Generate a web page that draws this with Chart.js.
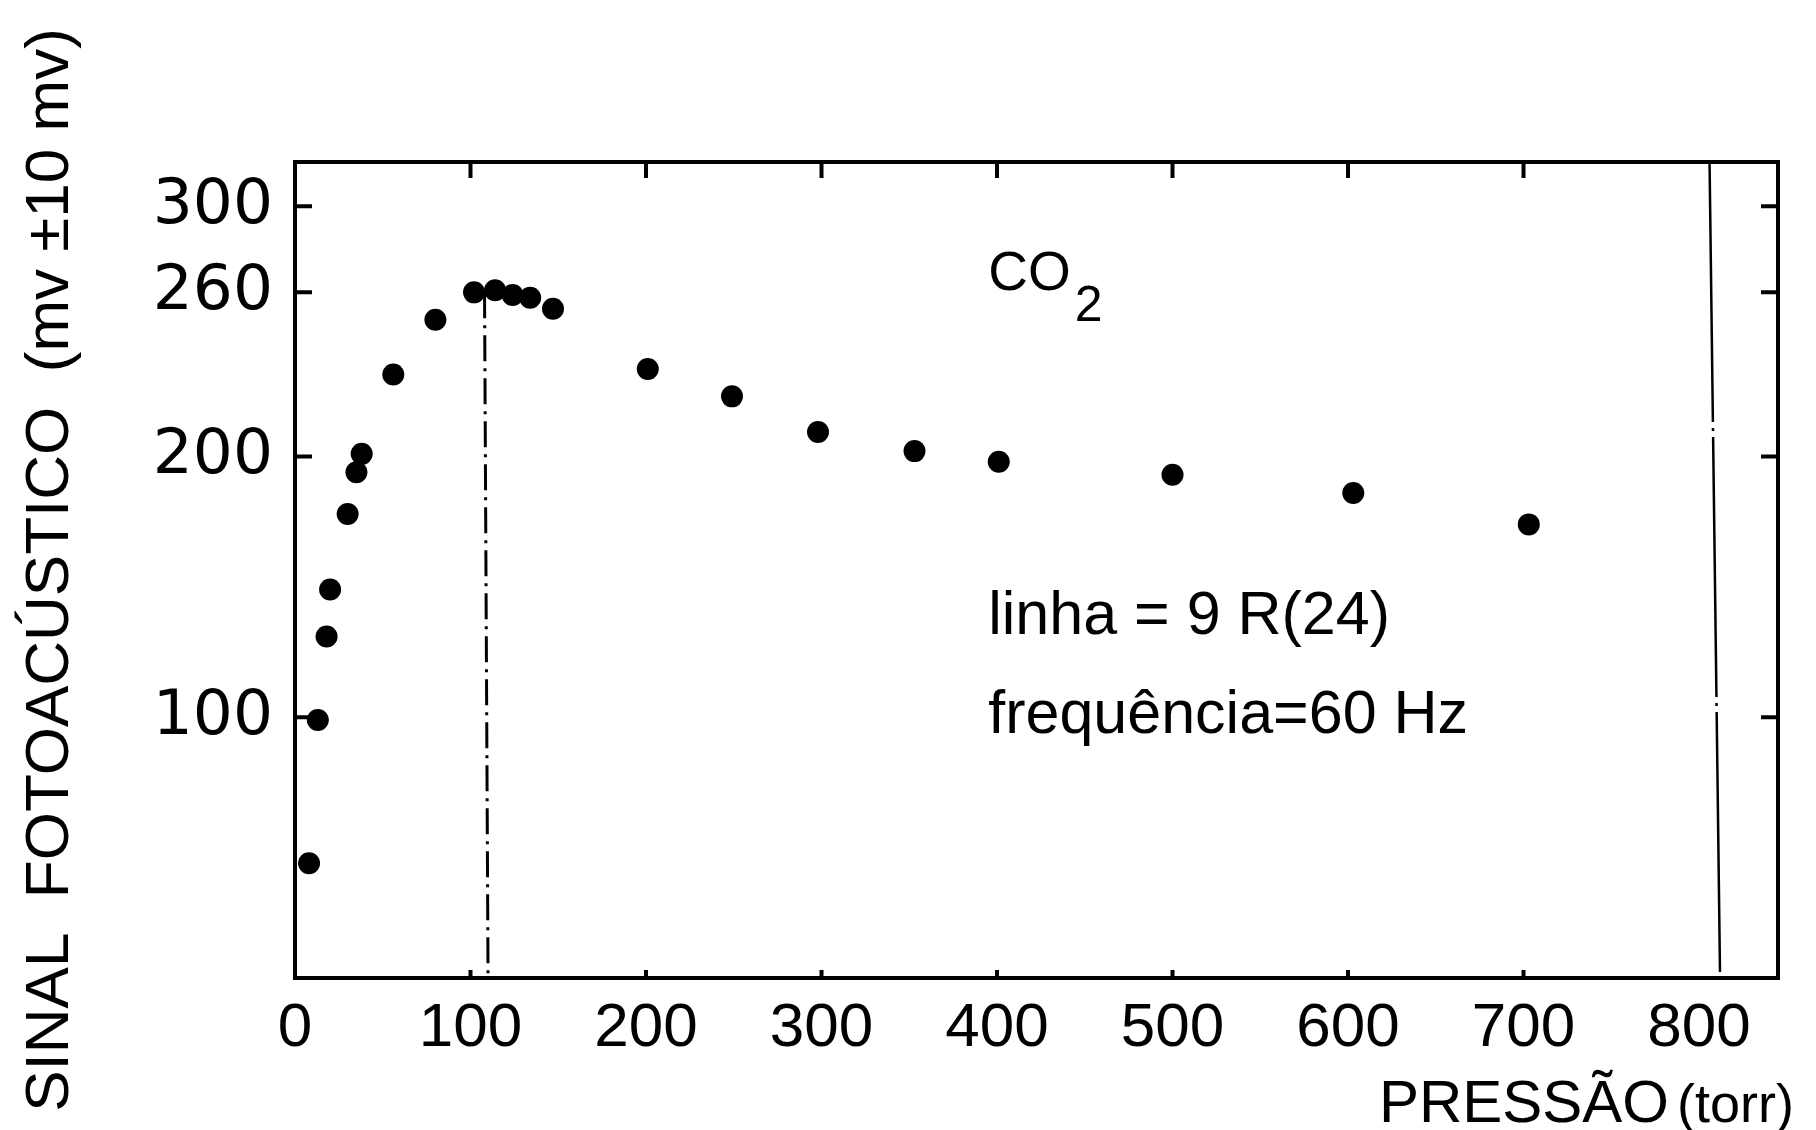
<!DOCTYPE html>
<html lang="pt">
<head>
<meta charset="utf-8">
<title>Sinal fotoacústico do CO2 em função da pressão</title>
<script src="https://cdn.jsdelivr.net/npm/chart.js@4.4.1/dist/chart.umd.min.js"></script>
<style>
  html, body { margin: 0; padding: 0; background: #fff; }
  #wrap { width: 1816px; height: 1130px; }
</style>
</head>
<body>
<div id="wrap"><canvas id="chart" width="1816" height="1130"></canvas></div>
<script>
// Measured points: pressure (torr) and photoacoustic signal (mV)
const pressure = [8, 13, 18, 20, 30, 35, 38, 56, 80, 102, 114, 124, 134, 147, 201, 249, 298, 353, 401, 500, 603, 703];
const signal   = [44, 99, 131, 149, 178, 194, 201, 230, 250, 260, 261, 259, 258, 254, 232, 222, 209, 202, 198, 193, 186, 174];

const xTicks = [0, 100, 200, 300, 400, 500, 600, 700, 800];
const yTicks = [100, 200, 260, 300];

// dash-dot drop from the maximum, and the thin line near 800 torr
const peakLineX = [108, 110];
const peakLineY = [260, 0];
const limitLineX = [806, 812];
const limitLineY = [320, 0];

const INK = '#000';

// The signal axis is not evenly divided: each pair maps a value to its drawn height
const yKnots = [[0, 0], [100, 100], [200, 200], [260, 263], [300, 296], [320, 313]];

function piecewise(v, from, to) {
  for (let i = 1; i < yKnots.length; i++) {
    const a = yKnots[i - 1], b = yKnots[i];
    if (v <= b[from] || i === yKnots.length - 1) {
      return a[to] + (v - a[from]) * (b[to] - a[to]) / (b[from] - a[from]);
    }
  }
}
const warp = v => piecewise(v, 0, 1);
const unwarp = h => piecewise(h, 1, 0);

class WarpedScale extends Chart.LinearScale {
  static id = 'warped';
  static defaults = Chart.LinearScale.defaults;

  getPixelForValue(value) {
    if (value === null || value === undefined) return NaN;
    const lo = warp(this.min), hi = warp(this.max);
    return this.getPixelForDecimal((warp(value) - lo) / (hi - lo));
  }

  getValueForPixel(pixel) {
    const lo = warp(this.min), hi = warp(this.max);
    return unwarp(lo + this.getDecimalForPixel(pixel) * (hi - lo));
  }
}
Chart.register(WarpedScale);

const toPoints = (xs, ys) => xs.map((x, i) => ({ x: x, y: ys[i] }));

// Frame with inward ticks, plus the notes inside the plot and the pressure title
const framePlugin = {
  id: 'frame',
  afterDraw(chart) {
    const { ctx, chartArea: a, scales } = chart;
    ctx.save();
    ctx.strokeStyle = INK;
    ctx.fillStyle = INK;
    ctx.lineWidth = 4;
    ctx.strokeRect(a.left, a.top, a.width, a.height);

    ctx.beginPath();
    xTicks.forEach(v => {
      if (v === 0 || v === 800) return;
      const px = scales.x.getPixelForValue(v);
      ctx.moveTo(px, a.top);
      ctx.lineTo(px, a.top + 16);
      ctx.moveTo(px, a.bottom);
      ctx.lineTo(px, a.bottom - 8);
    });
    yTicks.forEach(v => {
      const py = scales.y.getPixelForValue(v);
      ctx.moveTo(a.left, py);
      ctx.lineTo(a.left + 17, py);
      ctx.moveTo(a.right, py);
      ctx.lineTo(a.right - 17, py);
    });
    ctx.stroke();

    const X = v => scales.x.getPixelForValue(v);
    const Y = v => scales.y.getPixelForValue(v);

    ctx.textAlign = 'left';
    ctx.textBaseline = 'alphabetic';

    // CO2 with subscript
    ctx.font = '55px "Liberation Sans", Arial, sans-serif';
    ctx.fillText('CO', X(395), Y(261));
    const coWidth = ctx.measureText('CO').width;
    ctx.font = '50px "Liberation Sans", Arial, sans-serif';
    ctx.fillText('2', X(395) + coWidth + 4, Y(261) + 31);

    ctx.font = '61px "Liberation Sans", Arial, sans-serif';
    ctx.fillText('linha = 9 R(24)', X(395), Y(132));
    ctx.fillText('frequência=60 Hz', X(395), Y(94));

    // pressure axis title, right aligned under the last label
    const right = a.right + 16;
    const base = chart.height - 8;
    ctx.textAlign = 'right';
    ctx.font = '54px "Liberation Sans Narrow", "Liberation Sans", Arial, sans-serif';
    ctx.fillText('(torr)', right, base);
    const unitWidth = ctx.measureText('(torr)').width;
    ctx.font = '60px "Liberation Sans", Arial, sans-serif';
    ctx.fillText('PRESSÃO', right - unitWidth - 8, base);
    ctx.restore();
  }
};

new Chart(document.getElementById('chart'), {
  type: 'scatter',
  data: {
    datasets: [
      {
        data: toPoints(pressure, signal),
        pointRadius: 11,
        pointHoverRadius: 11,
        backgroundColor: INK,
        borderWidth: 0
      },
      {
        type: 'line',
        data: toPoints(peakLineX, peakLineY),
        borderColor: INK,
        borderWidth: 3,
        borderDash: [26, 7, 3, 7],
        pointRadius: 0,
        fill: false
      },
      {
        type: 'line',
        data: toPoints(limitLineX, limitLineY),
        borderColor: INK,
        borderWidth: 2.5,
        borderDash: [260, 6, 3, 6],
        pointRadius: 0,
        fill: false
      }
    ]
  },
  options: {
    responsive: false,
    animation: false,
    layout: { padding: { left: 0, right: 38, top: 162, bottom: 0 } },
    plugins: {
      legend: { display: false },
      tooltip: { enabled: false }
    },
    scales: {
      x: {
        type: 'linear',
        position: 'bottom',
        min: 0,
        max: 845,
        grid: { display: false, drawTicks: false },
        border: { display: false },
        afterBuildTicks: scale => { scale.ticks = xTicks.map(v => ({ value: v })); },
        afterFit: scale => { scale.height = 152; },
        ticks: {
          color: INK,
          padding: 14,
          maxRotation: 0,
          autoSkip: false,
          font: { family: '"Liberation Sans Narrow", "Liberation Sans", Arial, sans-serif', size: 62 }
        }
      },
      y: {
        type: 'warped',
        position: 'left',
        min: 0,
        max: 320,
        grid: { display: false, drawTicks: false },
        border: { display: false },
        afterBuildTicks: scale => { scale.ticks = yTicks.map(v => ({ value: v })); },
        afterFit: scale => { scale.width = 295; },
        ticks: {
          color: INK,
          padding: 22,
          autoSkip: false,
          font: { family: '"DejaVu Sans", sans-serif', size: 63 }
        },
        title: {
          display: true,
          text: 'SINAL  FOTOACÚSTICO  (mv ±10 mv)',
          color: INK,
          padding: { top: 14, bottom: 0 },
          font: { family: '"Liberation Sans", Arial, sans-serif', size: 62 }
        }
      }
    }
  },
  plugins: [framePlugin]
});
</script>
</body>
</html>
